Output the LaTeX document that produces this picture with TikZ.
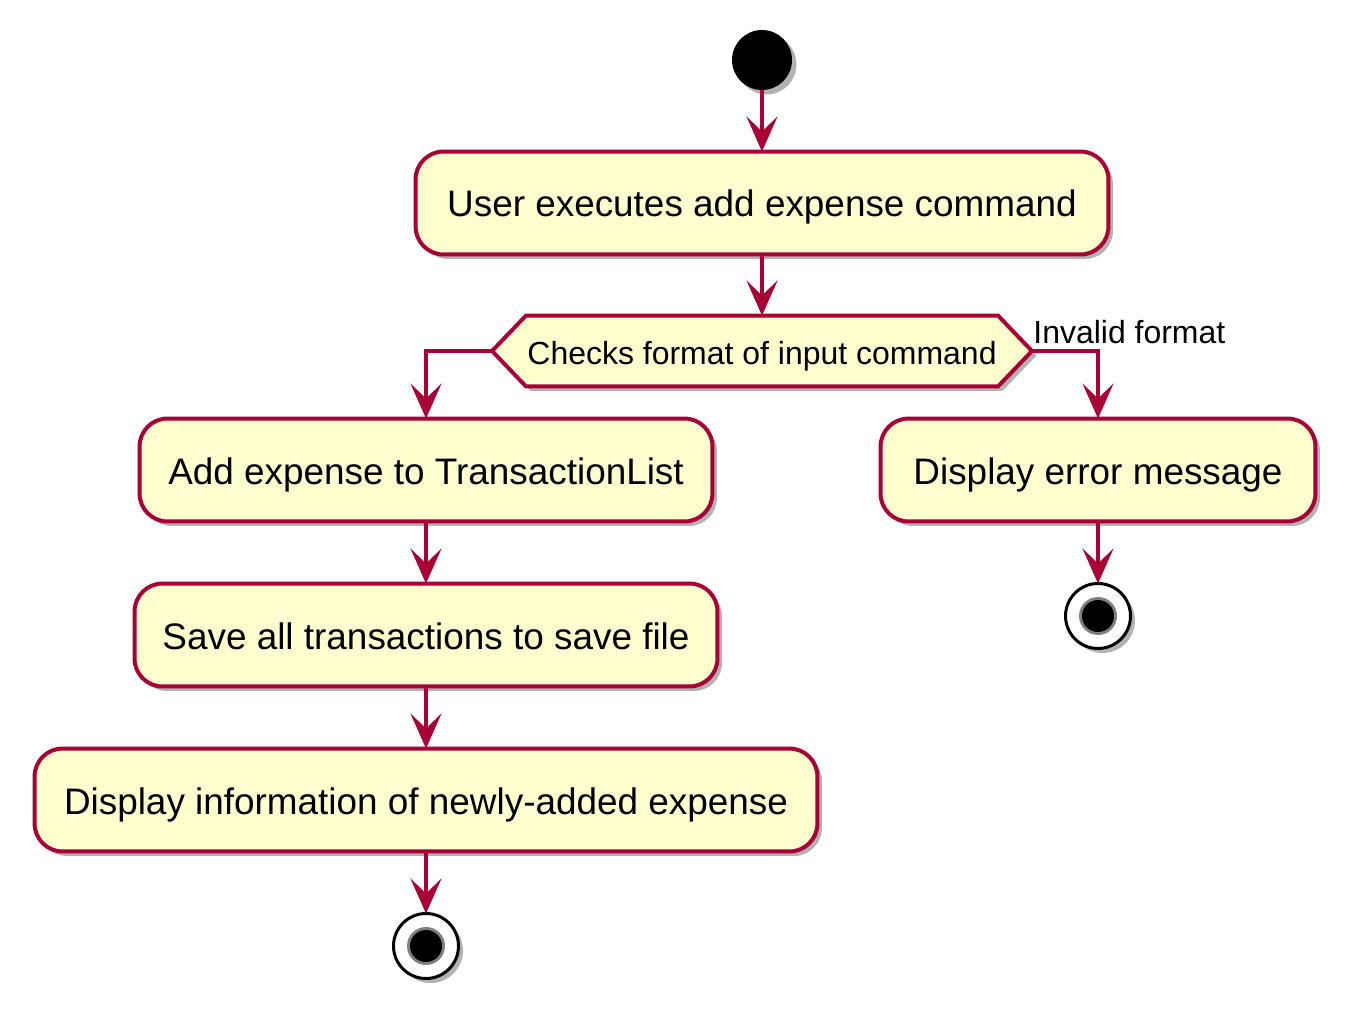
\documentclass[tikz,border=0pt]{standalone}
\usepackage{fontspec}
\setmainfont{Liberation Sans}
\usetikzlibrary{arrows.meta,shadows,calc,backgrounds}
\definecolor{pbfill}{HTML}{FEFECE}
\definecolor{pbline}{HTML}{A80036}
\begin{document}
\begin{tikzpicture}[x=0.02cm,y=-0.02cm,
  shad/.style={drop shadow={shadow xshift=0.09cm,shadow yshift=-0.09cm,opacity=0.3,fill=black}},
  act/.style={draw=pbline,fill=pbfill,line width=0.08cm,rounded corners=0.56cm,
    inner sep=0pt,outer sep=0pt,minimum height=2.06cm,text height=0.56cm,text depth=0pt,
    font=\fontsize{21}{25}\selectfont,shad},
  dtext/.style={inner sep=0pt,outer sep=0pt,minimum width=10.8cm,minimum height=1.42cm,
    text height=0.56cm,text depth=0pt,font=\fontsize{18.2}{22}\selectfont},
  hexa/.style={draw=pbline,fill=pbfill,line width=0.08cm,line join=miter,shad},
  lbl/.style={inner sep=0pt,font=\fontsize{18.2}{22}\selectfont},
  startc/.style={circle,fill=black,minimum size=1.2cm,inner sep=0pt,outer sep=0pt,shad},
  endc/.style={circle,draw=black,fill=white,line width=0.06cm,minimum size=1.3cm,inner sep=0pt,outer sep=0pt,shad},
  arr/.style={draw=pbline,line width=0.075cm,line join=miter,
    -{Stealth[length=0.7cm,width=0.62cm,inset=0.3cm]}},
]
\useasboundingbox (0,0) rectangle (1365,1027);
\node[startc] (s) at (762,60) {};
\node[act,minimum width=13.86cm] (b1) at (762,203) {User executes add expense command};
\node[dtext] (d) at (762,351) {Checks format of input command};
\begin{pgfonlayer}{background}
\path[hexa] (d.west) -- ($(d.north west)+(34,0)$) -- ($(d.north east)+(-34,0)$)
  -- (d.east) -- ($(d.south east)+(-34,0)$) -- ($(d.south west)+(34,0)$) -- cycle;
\end{pgfonlayer}
\node[lbl,anchor=base west] (lab) at (1033,343) {Invalid format};
\node[act,minimum width=11.46cm] (b2) at (426,470) {Add expense to TransactionList};
\node[act,minimum width=8.7cm] (b3) at (1098,470) {Display error message};
\node[act,minimum width=11.66cm] (b4) at (426,635) {Save all transactions to save file};
\node[act,minimum width=15.66cm] (b5) at (426,800) {Display information of newly-added expense};
\node[endc] (e1) at (426,946) {};
\fill[black!50] (e1.center) circle (0.38cm);
\fill[black] (e1.center) circle (0.32cm);
\node[endc] (e2) at (1098,616) {};
\fill[black!50] (e2.center) circle (0.38cm);
\fill[black] (e2.center) circle (0.32cm);
\draw[arr] (s) -- (b1);
\draw[arr] (b1) -- (d);
\draw[arr] (d.west) -| (b2.north);
\draw[arr] (d.east) -| (b3.north);
\draw[arr] (b2) -- (b4);
\draw[arr] (b4) -- (b5);
\draw[arr] (b5) -- (e1);
\draw[arr] (b3) -- (e2);
\end{tikzpicture}
\end{document}
